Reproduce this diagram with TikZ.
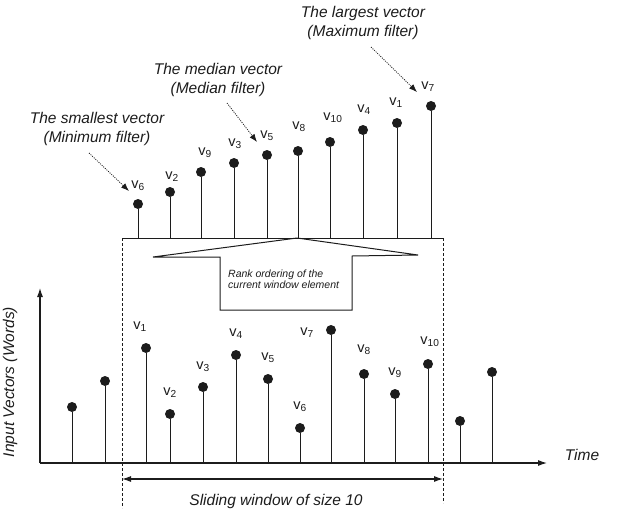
\documentclass[tikz,border=0pt]{standalone}
\usepackage{fontspec}
\setmainfont{Liberation Sans}
\usetikzlibrary{arrows.meta}
\definecolor{Ink}{HTML}{1C1C1C}
\tikzset{
  stem/.style={draw=Ink,line width=1pt},
  dot/.style={circle,fill=Ink,inner sep=0pt,minimum size=10pt},
  vlab/.style={font=\fontsize{14.5}{16}\selectfont,text=Ink,inner sep=0pt},
  caption/.style={font=\fontsize{15.5}{19}\selectfont\itshape,align=center,text=Ink,inner sep=0pt},
  ranktext/.style={font=\fontsize{10.5}{11.5}\selectfont\itshape,align=left,text=Ink,inner sep=0pt},
  axis/.style={-{Latex[length=9pt,width=6pt]},line width=1.1pt,draw=Ink},
  window/.style={draw=Ink,line width=0.9pt,dash pattern=on 3pt off 2pt},
  pointer/.style={-{Latex[length=8pt,width=6pt]},draw=Ink,line width=0.8pt,dash pattern=on 1pt off 1.2pt},
  span/.style={{Latex[length=9pt,width=6pt]}-{Latex[length=9pt,width=6pt]},line width=1.1pt,draw=Ink}
}
\begin{document}
\begin{tikzpicture}[x=1pt,y=-1pt]
  \useasboundingbox (0,0) rectangle (618,517);
  % sorted window (top)
  \coordinate (wl) at (122,238);
  \coordinate (wr) at (443,238);
  \draw[stem] (wl) -- (wr);
  \foreach \x/\y/\n/\lx/\ly [count=\i] in {138/204/6/138/186, 170/192/2/172/177,
      201/172/9/205/153, 234/163/3/235/144, 267/155/5/267/136, 298/151/8/299/127,
      330/142/10/333/118, 363/130/4/364/110, 397/123/1/396/103, 431/106/7/428/87}
  {
    \coordinate (tb\i) at (\x,238);
    \node[dot] (td\i) at (\x,\y) {};
    \draw[stem] (tb\i) -- (td\i);
    \node[vlab] (tl\i) at (\lx,\ly) {v\textsubscript{\n}};
  }
  \node[caption] (mincap) at (97,129) {The smallest vector\\(Minimum filter)};
  \node[caption] (medcap) at (218,80) {The median vector\\(Median filter)};
  \node[caption] (maxcap) at (363,23) {The largest vector\\(Maximum filter)};
  \coordinate (minfrom) at (89,153);
  \coordinate (minto) at (129,191);
  \coordinate (medfrom) at (227,103);
  \coordinate (medto) at (257,142);
  \coordinate (maxfrom) at (371,47);
  \coordinate (maxto) at (417,92);
  \draw[pointer] (minfrom) -- (minto);
  \draw[pointer] (medfrom) -- (medto);
  \draw[pointer] (maxfrom) -- (maxto);
  % rank ordering arrow
  \draw[stem] (297,238) -- (418,255) -- (352,256) -- (352,310) -- (220,310)
    -- (220,257) -- (153,257) -- cycle;
  \node[ranktext,anchor=west] (rank) at (228,279) {Rank ordering of the\\current window element};
  % input sequence (bottom)
  \coordinate (O) at (40,463);
  \coordinate (ytop) at (40,288);
  \coordinate (xend) at (547,463);
  \draw[axis] (O) -- (ytop);
  \draw[axis] (O) -- (xend);
  \node[caption] (time) at (582,455) {Time};
  \node[caption,rotate=90,anchor=base] (ylab) at (14,382) {Input Vectors (Words)};
  \foreach \x/\y [count=\i] in {72/407, 105/381, 460/421, 492/372}
  {
    \coordinate (ob\i) at (\x,463);
    \node[dot] (od\i) at (\x,\y) {};
    \draw[stem] (ob\i) -- (od\i);
  }
  \foreach \x/\y/\n/\lx/\ly [count=\i] in {146/348/1/140/327, 170/414/2/170/393,
      203/387/3/203/367, 236/355/4/236/334, 268/379/5/268/358, 300/428/6/300/407,
      331/330/7/307/333, 364/374/8/364/350, 395/394/9/395/373, 428/364/10/430/342}
  {
    \coordinate (bb\i) at (\x,463);
    \node[dot] (bd\i) at (\x,\y) {};
    \draw[stem] (bb\i) -- (bd\i);
    \node[vlab] (bl\i) at (\lx,\ly) {v\textsubscript{\n}};
  }
  % sliding window
  \coordinate (wlbot) at (122,508);
  \coordinate (wrbot) at (443,503);
  \draw[window] (wl) -- (wlbot);
  \draw[window] (wr) -- (wrbot);
  \coordinate (sl) at (122,479);
  \coordinate (sr) at (443,479);
  \draw[span] (sl) -- (sr);
  \node[caption] (slide) at (276,501) {Sliding window of size 10};
\end{tikzpicture}
\end{document}
